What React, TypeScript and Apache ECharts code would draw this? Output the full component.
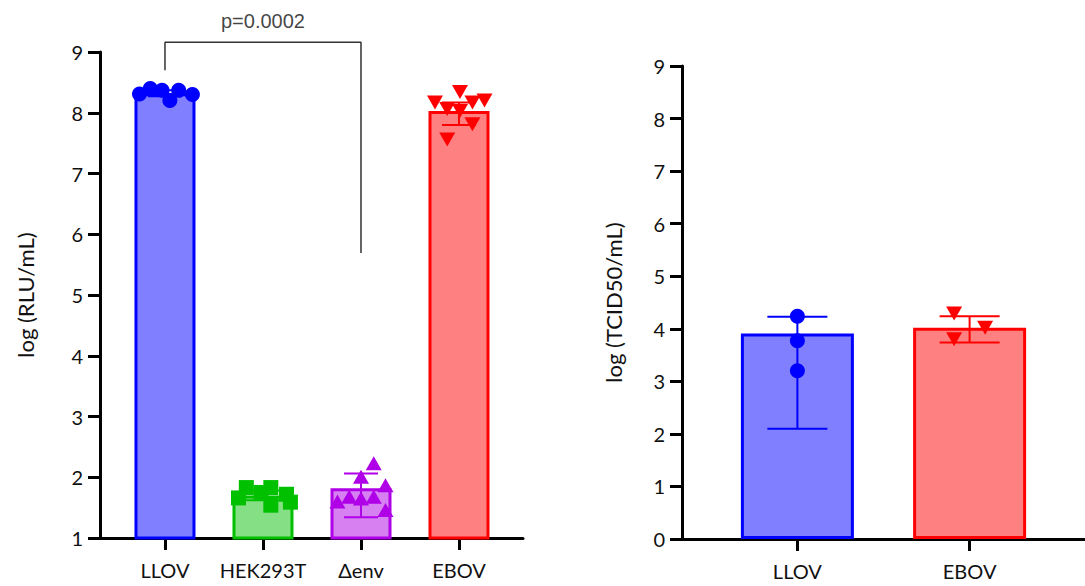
import React, { useEffect, useRef } from "react";
import * as echarts from "echarts";

// ---------- Left panel data ----------
const leftCategories = ["LLOV", "HEK293T", "Δenv", "EBOV"];
const leftMeans = [8.32, 1.7, 1.82, 8.03];
const leftErrLow = [8.27, 1.62, 1.34, 7.8];
const leftErrHigh = [8.37, 1.78, 2.06, 8.17];

const llovLeftPoints = [8.31, 8.4, 8.37, 8.2, 8.37, 8.3];
const llovLeftJitter = [-0.26, -0.15, -0.03, 0.05, 0.14, 0.28];
const hekPoints = [1.66, 1.83, 1.75, 1.83, 1.54, 1.72, 1.59];
const hekJitter = [-0.25, -0.17, -0.02, 0.08, 0.08, 0.24, 0.28];
const envPoints = [2.23, 2.01, 1.87, 1.6, 1.68, 1.65, 1.68, 1.46];
const envJitter = [0.13, 0.0, 0.25, -0.24, -0.12, 0.0, 0.13, 0.25];
const eboLeftPoints = [8.34, 8.17, 8.06, 8.03, 8.17, 8.2, 7.81, 7.56];
const eboLeftJitter = [0.01, -0.245, -0.12, 0.01, 0.137, 0.26, 0.137, -0.12];

const bracketX = [0, 0, 2, 2];
const bracketY = [8.7, 9.16, 9.16, 5.69];
const pLabel = "p=0.0002";

// ---------- Right panel data ----------
const rightCategories = ["LLOV", "EBOV"];
const rightMeans = [3.91, 4.02];
const rightErrLow = [2.1, 3.74];
const rightErrHigh = [4.23, 4.24];
const llovRightPoints = [4.24, 3.77, 3.2];
const llovRightJitter = [0, 0, 0];
const eboRightPoints = [4.29, 4.02, 3.8];
const eboRightJitter = [-0.09, 0.09, -0.09];

// ---------- Styles ----------
const leftStroke = ["#0000ff", "#00c000", "#b000e8", "#ff0000"];
const leftFill = ["#7f7fff", "#85e085", "#d680f2", "#ff8080"];
const rightStroke = ["#0000ff", "#ff0000"];
const rightFill = ["#7f7fff", "#ff8080"];

const FONT = "Lato";

function jittered(points: number[], jitter: number[], center: number) {
  return points.map((v, i) => [center + jitter[i], v]);
}

function errorBarSeries(
  xAxisIndex: number,
  yAxisIndex: number,
  lows: number[],
  highs: number[],
  colors: string[],
  capWidth: number
) {
  return {
    type: "custom",
    xAxisIndex,
    yAxisIndex,
    encode: { x: 0, y: [1, 2] },
    data: lows.map((lo, i) => [i, lo, highs[i]]),
    z: 3,
    renderItem: (params: any, api: any) => {
      const x = api.value(0);
      const pLo = api.coord([x, api.value(1)]);
      const pHi = api.coord([x, api.value(2)]);
      const half = capWidth / 2;
      const style = { stroke: colors[params.dataIndex], lineWidth: 2 };
      return {
        type: "group",
        children: [
          { type: "line", shape: { x1: pLo[0], y1: pLo[1], x2: pHi[0], y2: pHi[1] }, style },
          { type: "line", shape: { x1: pHi[0] - half, y1: pHi[1], x2: pHi[0] + half, y2: pHi[1] }, style },
          { type: "line", shape: { x1: pLo[0] - half, y1: pLo[1], x2: pLo[0] + half, y2: pLo[1] }, style },
        ],
      };
    },
  };
}

function scatter(
  xAxisIndex: number,
  yAxisIndex: number,
  data: number[][],
  color: string,
  symbol: string,
  size: any,
  rotate = 0
) {
  return {
    type: "scatter",
    xAxisIndex,
    yAxisIndex,
    data,
    symbol,
    symbolSize: size,
    symbolRotate: rotate,
    itemStyle: { color, opacity: 1 },
    z: 4,
    clip: false,
  };
}

export default function App() {
  const ref = useRef<HTMLDivElement>(null);

  useEffect(() => {
    if (!ref.current) return;
    const chart = echarts.init(ref.current, undefined, { renderer: "svg" });

    const axisLine = { show: true, onZero: false, lineStyle: { color: "#000", width: 3 } };
    const axisTick = { show: true, length: 12, lineStyle: { color: "#000", width: 3 } };
    const labelStyle = { color: "#111", fontSize: 20, fontFamily: FONT };
    const nameStyle = { color: "#111", fontSize: 22, fontFamily: FONT };

    const option: any = {
      animation: false,
      grid: [
        { left: 100, top: 52, width: 423, height: 486 },
        { left: 682, top: 66, width: 412, height: 473 },
      ],
      xAxis: [
        {
          gridIndex: 0,
          type: "value",
          min: -0.663,
          max: 3.653,
          splitLine: { show: false },
          axisLine,
          axisTick: { ...axisTick, customValues: [0, 1, 2, 3] },
          axisLabel: {
            ...labelStyle,
            margin: 22,
            customValues: [0, 1, 2, 3],
            formatter: (v: number) => leftCategories[Math.round(v)],
          },
        },
        {
          gridIndex: 1,
          type: "value",
          min: -0.67,
          max: 1.67,
          splitLine: { show: false },
          axisLine,
          axisTick: { ...axisTick, customValues: [0, 1] },
          axisLabel: {
            ...labelStyle,
            margin: 22,
            customValues: [0, 1],
            formatter: (v: number) => rightCategories[Math.round(v)],
          },
        },
      ],
      yAxis: [
        {
          gridIndex: 0,
          type: "value",
          min: 1,
          max: 9,
          interval: 1,
          splitLine: { show: false },
          axisLine,
          axisTick,
          axisLabel: { ...labelStyle, margin: 17 },
          name: "log (RLU/mL)",
          nameLocation: "middle",
          nameGap: 64,
          nameRotate: 90,
          nameTextStyle: nameStyle,
        },
        {
          gridIndex: 1,
          type: "value",
          min: 0,
          max: 9,
          interval: 1,
          splitLine: { show: false },
          axisLine,
          axisTick,
          axisLabel: { ...labelStyle, margin: 17 },
          name: "log (TCID50/mL)",
          nameLocation: "middle",
          nameGap: 58,
          nameRotate: 90,
          nameTextStyle: nameStyle,
        },
      ],
      series: [
        {
          type: "bar",
          xAxisIndex: 0,
          yAxisIndex: 0,
          barWidth: 61,
          z: 2,
          data: leftMeans.map((v, i) => ({
            value: [i, v],
            itemStyle: { color: leftFill[i], borderColor: leftStroke[i], borderWidth: 3 },
          })),
        },
        {
          type: "bar",
          xAxisIndex: 1,
          yAxisIndex: 1,
          barWidth: 113,
          z: 2,
          data: rightMeans.map((v, i) => ({
            value: [i, v],
            itemStyle: { color: rightFill[i], borderColor: rightStroke[i], borderWidth: 3 },
          })),
        },
        errorBarSeries(0, 0, leftErrLow, leftErrHigh, leftStroke, 34),
        errorBarSeries(1, 1, rightErrLow, rightErrHigh, rightStroke, 60),
        scatter(0, 0, jittered(llovLeftPoints, llovLeftJitter, 0), leftStroke[0], "circle", 15),
        scatter(0, 0, jittered(hekPoints, hekJitter, 1), leftStroke[1], "rect", 15),
        scatter(0, 0, jittered(envPoints, envJitter, 2), leftStroke[2], "triangle", [16, 14]),
        scatter(0, 0, jittered(eboLeftPoints, eboLeftJitter, 3), leftStroke[3], "triangle", [16, 14], 180),
        scatter(1, 1, jittered(llovRightPoints, llovRightJitter, 0), rightStroke[0], "circle", 15),
        scatter(1, 1, jittered(eboRightPoints, eboRightJitter, 1), rightStroke[1], "triangle", [16, 14], 180),
        {
          type: "line",
          xAxisIndex: 0,
          yAxisIndex: 0,
          data: bracketX.map((x, i) => [x, bracketY[i]]),
          symbol: "none",
          clip: false,
          lineStyle: { color: "#333", width: 1.5 },
          z: 5,
        },
        {
          type: "scatter",
          xAxisIndex: 0,
          yAxisIndex: 0,
          data: [[(bracketX[1] + bracketX[2]) / 2, bracketY[1]]],
          symbolSize: 0,
          clip: false,
          label: {
            show: true,
            position: "top",
            distance: 11,
            formatter: pLabel,
            color: "#111",
            fontSize: 20,
            fontFamily: "Liberation Sans",
          },
          z: 5,
        },
      ],
    };

    chart.setOption(option);
    return () => chart.dispose();
  }, []);

  return (
    <div
      ref={ref}
      style={{ position: "fixed", left: 0, top: 0, width: 1085, height: 586, background: "#fff" }}
    />
  );
}
